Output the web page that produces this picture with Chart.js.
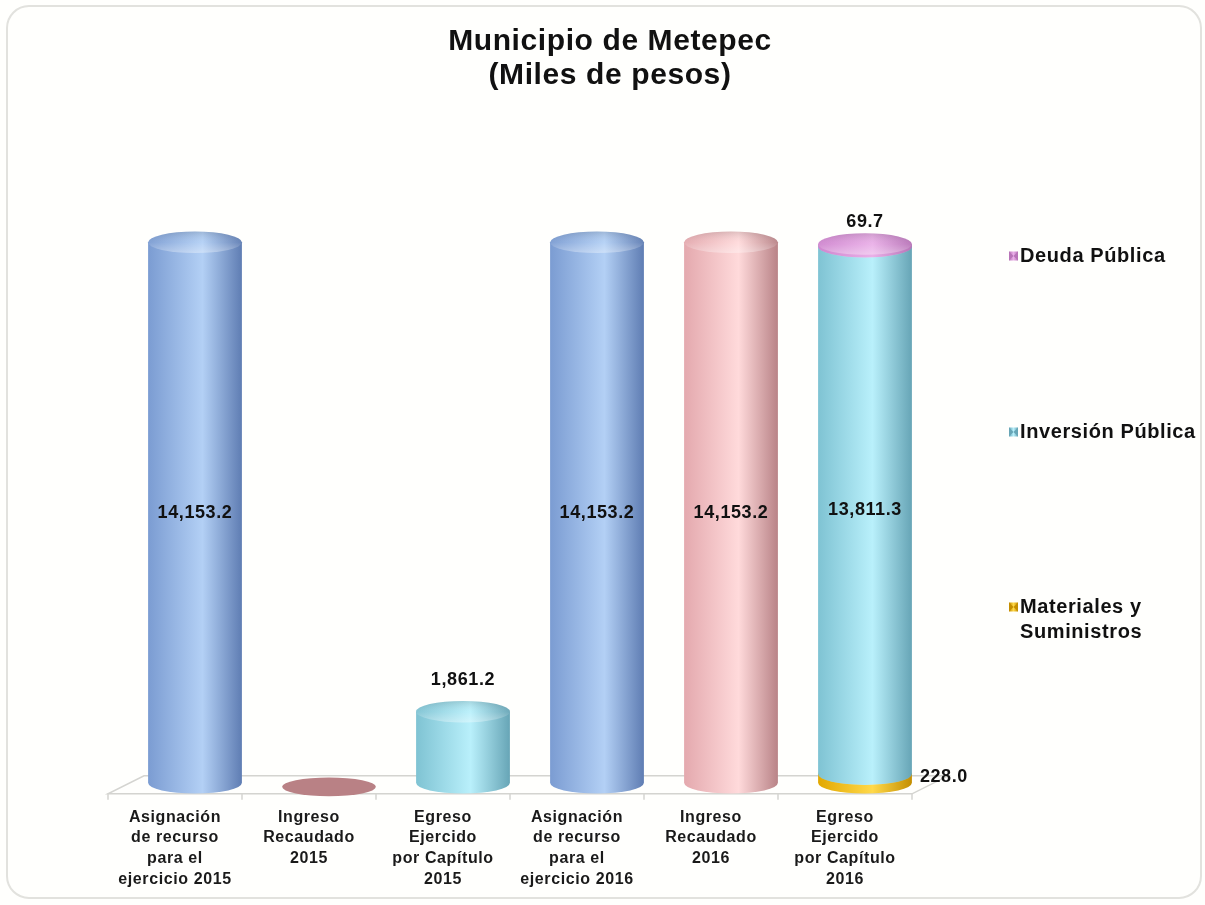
<!DOCTYPE html>
<html>
<head>
<meta charset="utf-8">
<script src="https://cdn.jsdelivr.net/npm/chart.js@4.4.1/dist/chart.umd.min.js"></script>
<style>
  html, body { margin: 0; padding: 0; background: #ffffff; }
  #wrap { position: relative; width: 1205px; height: 905px; }
</style>
</head>
<body>
<div id="wrap"><canvas id="barChart"></canvas></div>
<script>
// categories (multi-line tick labels)
const categories = [
    ["Asignación", "de recurso", "para el", "ejercicio 2015"],
    ["Ingreso", "Recaudado", "2015"],
    ["Egreso", "Ejercido", "por Capítulo", "2015"],
    ["Asignación", "de recurso", "para el", "ejercicio 2016"],
    ["Ingreso", "Recaudado", "2016"],
    ["Egreso", "Ejercido", "por Capítulo", "2016"]
];

// series values (miles de pesos)
const asignacion = [14153.2, null, null, 14153.2, null, null];
const ingreso = [null, 0, null, null, 14153.2, null];
const materiales = [null, null, null, null, null, 228.0];
const inversion = [null, null, 1861.2, null, null, 13811.3];
const deuda = [null, null, null, null, null, 69.7];

const titleLines = ["Municipio de Metepec", "(Miles de pesos)"];
const legendNames = ["Deuda Pública", "Inversión Pública", ["Materiales y", "Suministros"]];

// colours: [left edge, highlight, right edge]
const palette = {
    asignacion: ["#7b9cd2", "#b3d0f5", "#5f7db3"],
    ingreso: ["#e4a9ae", "#ffdadb", "#b98387"],
    materiales: ["#e2a800", "#ffd94a", "#c48e00"],
    inversion: ["#7fc3d3", "#b9f0fb", "#67a5b6"],
    deuda: ["#cf86cf", "#eab0e8", "#b874b8"]
};
const seriesKeys = ["asignacion", "ingreso", "materiales", "inversion", "deuda"];

const FONT = "'Liberation Sans', Arial, sans-serif";
const DX = 20, DY = -11;          // 3D shift of bars
const FLOOR_DX = 36, FLOOR_DY = -18;

function fmt(v) {
    return v.toLocaleString("en-US", { minimumFractionDigits: 1, maximumFractionDigits: 1 });
}

function cylinder(ctx, cx, top, bottom, w, c) {
    const rx = w / 2, ry = w * 0.115;
    const g = ctx.createLinearGradient(cx - rx, 0, cx + rx, 0);
    g.addColorStop(0, c[0]);
    g.addColorStop(0.58, c[1]);
    g.addColorStop(1, c[2]);
    ctx.beginPath();
    ctx.moveTo(cx - rx, top);
    ctx.lineTo(cx - rx, bottom);
    ctx.ellipse(cx, bottom, rx, ry, 0, Math.PI, 0, true);
    ctx.lineTo(cx + rx, top);
    ctx.closePath();
    ctx.fillStyle = g;
    ctx.fill();
    // top cap
    ctx.beginPath();
    ctx.ellipse(cx, top, rx, ry, 0, 0, Math.PI * 2);
    ctx.fillStyle = g;
    ctx.fill();
    const g2 = ctx.createLinearGradient(0, top - ry, 0, top + ry);
    g2.addColorStop(0, "rgba(0,0,0,0.12)");
    g2.addColorStop(0.5, "rgba(255,255,255,0.05)");
    g2.addColorStop(1, "rgba(255,255,255,0.35)");
    ctx.fillStyle = g2;
    ctx.fill();
}

const cylPlugin = {
    id: "cylinders",
    beforeDraw(chart) {
        const ctx = chart.ctx;
        const a = chart.chartArea;
        ctx.letterSpacing = "0.6px";   // stays on the context for tick labels too
        ctx.save();
        ctx.fillStyle = "#fffffd";
        ctx.fillRect(0, 0, chart.width, chart.height);
        // frame
        ctx.strokeStyle = "#e2e2de";
        ctx.lineWidth = 2;
        ctx.beginPath();
        ctx.roundRect(7, 6, 1194, 892, 22);
        ctx.stroke();
        // title
        ctx.fillStyle = "#111";
        ctx.font = "bold 30px " + FONT;
        ctx.textAlign = "center";
        ctx.textBaseline = "middle";
        ctx.fillText(titleLines[0], 610, 42);
        ctx.fillText(titleLines[1], 610, 76);
        // floor
        const y0 = a.bottom;
        ctx.strokeStyle = "#d4d4d0";
        ctx.lineWidth = 1.5;
        ctx.beginPath();
        ctx.moveTo(a.left, y0);
        ctx.lineTo(a.right, y0);
        ctx.lineTo(a.right + FLOOR_DX, y0 + FLOOR_DY);
        ctx.lineTo(a.left + FLOOR_DX, y0 + FLOOR_DY);
        ctx.closePath();
        ctx.stroke();
        // tick marks between categories
        for (let i = 0; i <= categories.length; i++) {
            const x = a.left + (a.right - a.left) * i / categories.length;
            ctx.beginPath();
            ctx.moveTo(x, y0);
            ctx.lineTo(x, y0 + 6);
            ctx.stroke();
        }
        ctx.restore();
    },
    afterDatasetsDraw(chart) {
        const ctx = chart.ctx;
        ctx.save();
        chart.data.datasets.forEach((ds, di) => {
            const meta = chart.getDatasetMeta(di);
            const c = palette[seriesKeys[di]];
            meta.data.forEach((bar, i) => {
                const v = ds.data[i];
                if (v === null || v === undefined) return;
                const cx = bar.x + DX;
                const top = bar.y + DY;
                const bottom = bar.base + DY;
                const w = bar.width;
                if (v === 0) {
                    ctx.beginPath();
                    ctx.ellipse(cx, bottom + 4, w / 2, w * 0.1, 0, 0, Math.PI * 2);
                    ctx.fillStyle = "#b98185";
                    ctx.fill();
                    return;
                }
                cylinder(ctx, cx, top, bottom, w, c);
            });
        });
        // value labels
        ctx.fillStyle = "#111";
        ctx.font = "bold 18px " + FONT;
        ctx.textBaseline = "middle";
        chart.data.datasets.forEach((ds, di) => {
            const meta = chart.getDatasetMeta(di);
            meta.data.forEach((bar, i) => {
                const v = ds.data[i];
                if (v === null || v === undefined || v === 0) return;
                const cx = bar.x + DX;
                const top = bar.y + DY;
                const bottom = bar.base + DY;
                const h = bottom - top;
                if (seriesKeys[di] === "materiales") {
                    ctx.textAlign = "left";
                    ctx.fillText(fmt(v), cx + bar.width / 2 + 8, bottom - 6);
                } else if (h > 200) {
                    ctx.textAlign = "center";
                    ctx.fillText(fmt(v), cx, (top + bottom) / 2);
                } else if (seriesKeys[di] === "deuda") {
                    ctx.textAlign = "center";
                    ctx.fillText(fmt(v), cx, top - 22);
                } else {
                    ctx.textAlign = "center";
                    ctx.fillText(fmt(v), cx, top - 32);
                }
            });
        });
        // legend (right side)
        const items = [
            { key: "deuda", y: 256 },
            { key: "inversion", y: 432 },
            { key: "materiales", y: 607 }
        ];
        ctx.font = "bold 20px " + FONT;
        ctx.textAlign = "left";
        items.forEach((it, k) => {
            const c = palette[it.key];
            const x0 = 1009, s = 9;
            const g = ctx.createLinearGradient(x0, 0, x0 + s, 0);
            g.addColorStop(0, c[2]);
            g.addColorStop(0.5, c[1]);
            g.addColorStop(1, c[2]);
            ctx.fillStyle = g;
            ctx.fillRect(x0, it.y - s / 2, s, s);
            ctx.fillStyle = c[2];
            ctx.beginPath();
            ctx.moveTo(x0, it.y - s / 2);
            ctx.lineTo(x0 + s / 2, it.y);
            ctx.lineTo(x0, it.y + s / 2);
            ctx.closePath();
            ctx.fill();
            ctx.beginPath();
            ctx.moveTo(x0 + s, it.y - s / 2);
            ctx.lineTo(x0 + s / 2, it.y);
            ctx.lineTo(x0 + s, it.y + s / 2);
            ctx.closePath();
            ctx.fill();
            ctx.fillStyle = "#111";
            const name = legendNames[k];
            if (Array.isArray(name)) {
                name.forEach((line, j) => ctx.fillText(line, 1020, it.y + j * 25));
            } else {
                ctx.fillText(name, 1020, it.y);
            }
        });
        ctx.restore();
    }
};

const transparent = "rgba(0,0,0,0)";
const mk = (label, data) => ({ label, data, backgroundColor: transparent, borderWidth: 0 });

new Chart(document.getElementById("barChart").getContext("2d"), {
    type: "bar",
    data: {
        labels: categories,
        datasets: [
            mk("Asignación", asignacion),
            mk("Ingreso Recaudado", ingreso),
            mk("Materiales y Suministros", materiales),
            mk("Inversión Pública", inversion),
            mk("Deuda Pública", deuda)
        ]
    },
    options: {
        responsive: true,
        maintainAspectRatio: false,
        animation: false,
        categoryPercentage: 1.0,
        barPercentage: 0.7,
        layout: { padding: { left: 108, right: 293, top: 221, bottom: 2 } },
        plugins: {
            legend: { display: false },
            title: { display: false },
            tooltip: { enabled: false }
        },
        scales: {
            x: {
                stacked: true,
                grid: { display: false, drawTicks: false },
                border: { display: false },
                ticks: {
                    color: "#1a1a1a",
                    padding: 13,
                    maxRotation: 0,
                    autoSkip: false,
                    font: { family: FONT, size: 16, weight: "bold", lineHeight: 1.3 }
                }
            },
            y: {
                stacked: true,
                display: false,
                min: 0,
                max: 15000
            }
        }
    },
    plugins: [cylPlugin]
});
</script>
</body>
</html>
